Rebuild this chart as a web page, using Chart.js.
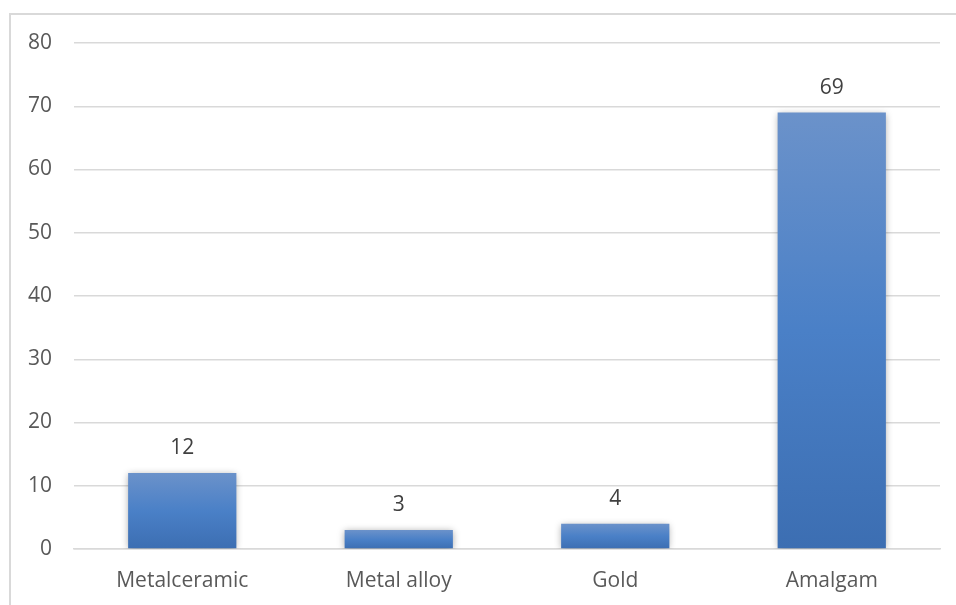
<!DOCTYPE html>
<html>
<head>
<meta charset="utf-8">
<script src="https://cdn.jsdelivr.net/npm/chart.js@4/dist/chart.umd.min.js"></script>
<style>
	html, body { margin: 0; padding: 0; overflow: hidden; background: #fff; }
	#frame {
		position: absolute; left: 9px; top: 13px;
		width: 1000px; height: 1000px;
		border: 2px solid #d9d9d9;
	}
	#wrap { position: absolute; left: 0; top: 0; width: 956px; height: 605px; }
</style>
</head>
<body>
<div id="frame"></div>
<div id="wrap"><canvas id="chart" width="956" height="605"></canvas></div>
<script>
// Restoration materials and how often each was used
const materials = ["Metalceramic", "Metal alloy", "Gold", "Amalgam"];
const counts = [12, 3, 4, 69];
const yTicks = [0, 10, 20, 30, 40, 50, 60, 70, 80];

const fontFamily = "'Open Sans', 'Noto Sans', sans-serif";

// Vertical gradient for each bar, from its top down to the zero line
function barFill(ctx) {
	const chart = ctx.chart;
	if (!chart.chartArea || ctx.type !== "data") return "#4a7fc6";
	const y = chart.scales.y;
	const top = y.getPixelForValue(ctx.raw);
	const bottom = y.getPixelForValue(0);
	const g = chart.ctx.createLinearGradient(0, top, 0, bottom);
	g.addColorStop(0, "#6b92ca");
	g.addColorStop(0.5, "#4a80c7");
	g.addColorStop(1, "#3c6eb2");
	return g;
}

// Soft shadow under the bars plus value labels above them
const barExtras = {
	id: "barExtras",
	beforeDatasetsDraw(chart) {
		const c = chart.ctx;
		c.save();
		c.shadowColor = "rgba(0,0,0,0.35)";
		c.shadowBlur = 7;
		c.shadowOffsetX = 0;
		c.shadowOffsetY = 1;
	},
	afterDatasetsDraw(chart) {
		const c = chart.ctx;
		c.restore();
		c.save();
		c.font = "21px " + fontFamily;
		c.fillStyle = "#404040";
		c.textAlign = "center";
		c.textBaseline = "middle";
		chart.getDatasetMeta(0).data.forEach((bar, i) => {
			c.fillText(String(counts[i]), bar.x, bar.y - 25);
		});
		c.restore();
	},
};

new Chart(document.getElementById("chart"), {
	type: "bar",
	data: {
		labels: materials,
		datasets: [
			{
				data: counts,
				backgroundColor: barFill,
				borderWidth: 0,
				categoryPercentage: 1,
				barPercentage: 0.5,
			},
		],
	},
	options: {
		responsive: false,
		animation: false,
		layout: { padding: { top: 43, right: 16, left: 0, bottom: 0 } },
		plugins: {
			legend: { display: false },
			tooltip: { enabled: false },
		},
		scales: {
			x: {
				grid: { display: false },
				border: { color: "#d9d9d9", width: 1.5 },
				ticks: {
					color: "#595959",
					font: { size: 21, family: fontFamily },
					padding: 11,
				},
				afterFit: (s) => { s.height = 56; },
			},
			y: {
				min: 0,
				max: 80,
				afterBuildTicks: (s) => { s.ticks = yTicks.map((v) => ({ value: v })); },
				grid: { color: "#d9d9d9", lineWidth: 1.5, drawTicks: false },
				border: { display: false },
				ticks: {
					color: "#595959",
					font: { size: 21, family: fontFamily },
					padding: 22,
				},
				afterFit: (s) => { s.width = 74; },
			},
		},
	},
	plugins: [barExtras],
});
</script>
</body>
</html>
